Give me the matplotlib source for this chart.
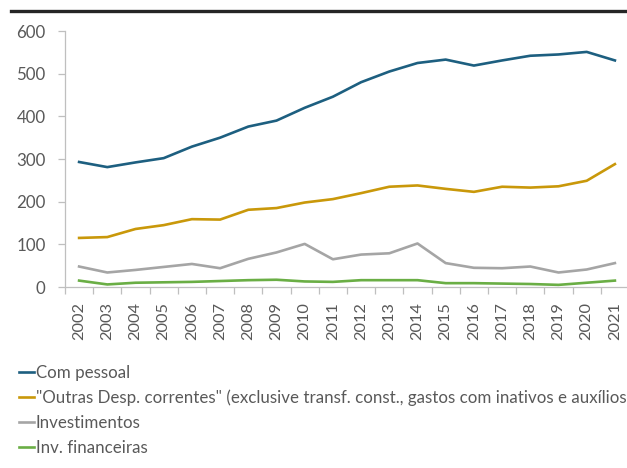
import numpy as np
import matplotlib
matplotlib.use('Agg')
import matplotlib.pyplot as plt
from matplotlib.lines import Line2D

plt.rcParams['font.family'] = ['Lato', 'DejaVu Sans']

years = [str(y) for y in range(2002, 2022)]
com_pessoal = [293, 281, 292, 302, 329, 350, 376, 390, 420, 446,
               480, 505, 525, 533, 519, 531, 542, 545, 551, 531]
outras_desp = [115, 117, 136, 145, 159, 158, 181, 185, 198, 206,
               220, 235, 238, 230, 223, 235, 233, 236, 249, 288]
investimentos = [48, 34, 40, 47, 54, 44, 66, 81, 101, 65,
                 76, 79, 102, 56, 45, 44, 48, 34, 41, 56]
inv_financeiras = [15, 6, 10, 11, 12, 14, 16, 17, 13, 12,
                   16, 16, 16, 9, 9, 8, 7, 5, 10, 15]

series = [
    ('Com pessoal', com_pessoal, '#1d5f80'),
    ('"Outras Desp. correntes" (exclusive transf. const., gastos com inativos e auxílios)',
     outras_desp, '#c9980a'),
    ('Investimentos', investimentos, '#a5a5a5'),
    ('Inv. financeiras', inv_financeiras, '#6aae45'),
]

W, H = 627, 468
fig = plt.figure(figsize=(W / 100, H / 100), dpi=100)
fig.patch.set_facecolor('white')

# axes box in pixel coords: left 65, right 629, y=0 at 287, y=600 at 31
ax = fig.add_axes([65 / W, (H - 287) / H, (629 - 65) / W, (287 - 31) / H])

x = np.arange(len(years))
for label, vals, color in series:
    ax.plot(x, vals, color=color, linewidth=1.9, label=label, solid_joinstyle='round')

ax.set_xlim(-0.5, len(years) - 0.5)
ax.set_ylim(0, 600)
ax.set_yticks(range(0, 601, 100))
ax.set_xticks(x)
ax.set_xticklabels(years, rotation=90, fontsize=11.8, color='#595959')
ax.set_xticks(np.arange(-0.5, len(years), 1), minor=True)
ax.tick_params(axis='x', which='major', length=0, pad=11)
ax.tick_params(axis='x', which='minor', length=5, color='#bfbfbf', width=0.9)
ax.tick_params(axis='y', length=5, color='#bfbfbf', width=0.9, labelsize=12.2,
               labelcolor='#595959', pad=9)

for side in ['top', 'right']:
    ax.spines[side].set_visible(False)
for side in ['left', 'bottom']:
    ax.spines[side].set_color('#bfbfbf')
    ax.spines[side].set_linewidth(0.9)

# legend stacked under the chart
ax.legend(loc='upper left', bbox_to_anchor=(19 / W, (H - 365) / H),
          bbox_transform=fig.transFigure, frameon=False, fontsize=12.2,
          handlelength=0.9, handletextpad=0.1, labelspacing=0.52,
          borderaxespad=0, borderpad=0, labelcolor='#595959')

# header rule and clipped unit caption
fig.add_artist(Line2D([11 / W, 1.0], [(H - 10.5) / H] * 2, color='#262626',
                      linewidth=2.4, transform=fig.transFigure))
fig.text(12 / W, (H + 3) / H, '(R$ bilhões, a preços de 2021)', fontsize=11,
         color='#595959', va='baseline', ha='left')

fig.savefig('out.png', dpi=100, facecolor='white')
